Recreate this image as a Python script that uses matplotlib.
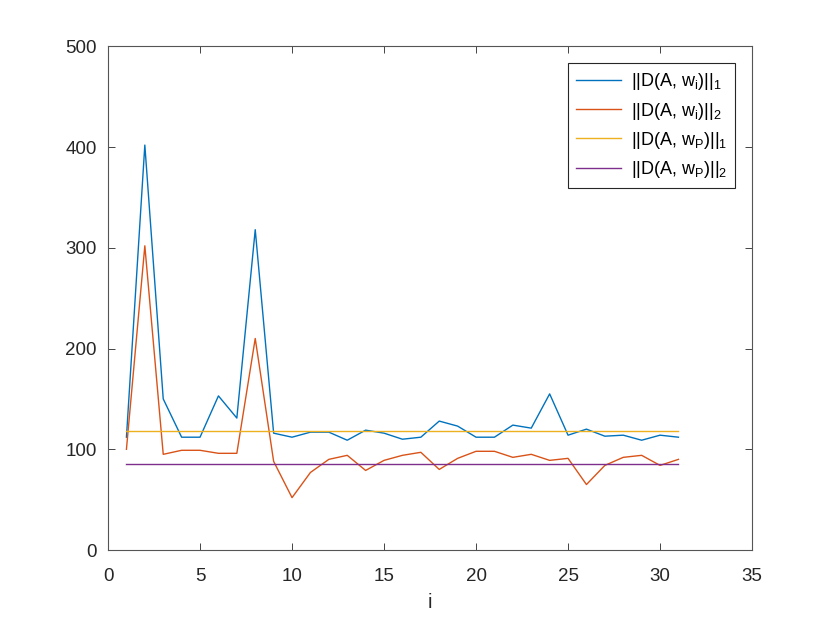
import matplotlib
matplotlib.use("Agg")
import matplotlib.pyplot as plt

plt.rcParams['font.family'] = ['Liberation Sans', 'DejaVu Sans']
plt.rcParams['mathtext.fontset'] = 'custom'
plt.rcParams['mathtext.rm'] = 'Liberation Sans'

idx = list(range(1, 32))
d1_wi = [112, 402, 150, 112, 112, 153, 131, 318, 116, 112, 117, 117, 109, 119, 116,
         110, 112, 128, 123, 112, 112, 124, 121, 155, 114, 120, 113, 114, 109, 114, 112]
d2_wi = [100, 302, 95, 99, 99, 96, 96, 210, 88, 52, 77, 90, 94, 79, 89,
         94, 97, 80, 91, 98, 98, 92, 95, 89, 91, 65, 84, 92, 94, 84, 90]
d1_wp = 118
d2_wp = 85

labels = [r'||D(A, w$\mathregular{_i}$)||$\mathregular{_1}$',
          r'||D(A, w$\mathregular{_i}$)||$\mathregular{_2}$',
          r'||D(A, w$\mathregular{_P}$)||$\mathregular{_1}$',
          r'||D(A, w$\mathregular{_P}$)||$\mathregular{_2}$']
colors = ['#0072BD', '#D95319', '#EDB120', '#7E2F8E']

fig = plt.figure(figsize=(8.31, 6.18), dpi=100)
ax = fig.add_axes([0.13, 0.11, 0.775, 0.815])

ax.plot(idx, d1_wi, color=colors[0], lw=1.0, label=labels[0])
ax.plot(idx, d2_wi, color=colors[1], lw=1.0, label=labels[1])
ax.plot(idx, [d1_wp] * len(idx), color=colors[2], lw=1.0, label=labels[2])
ax.plot(idx, [d2_wp] * len(idx), color=colors[3], lw=1.0, label=labels[3])

ax.set_xlim(0, 35)
ax.set_ylim(0, 500)
ax.set_xticks([0, 5, 10, 15, 20, 25, 30, 35])
ax.set_yticks([0, 100, 200, 300, 400, 500])
ax.tick_params(direction='in', top=True, right=True, labelsize=13.5,
               colors='#262626', length=5, width=0.6)
ax.tick_params(axis='x', pad=13)
ax.tick_params(axis='y', pad=8)
for s in ax.spines.values():
    s.set_color('#555555')
    s.set_linewidth(0.8)
ax.set_xlabel('i', fontsize=14.5, color='#262626', labelpad=6)

leg = ax.legend(loc='upper right', bbox_to_anchor=(0.9736, 0.9663), borderaxespad=0,
                fontsize=13, frameon=True, fancybox=False, framealpha=1,
                edgecolor='#262626', handlelength=2.45, handletextpad=0.55,
                borderpad=0.45, labelspacing=0.45)
leg.get_frame().set_linewidth(0.8)

fig.savefig('out.png', dpi=100)
